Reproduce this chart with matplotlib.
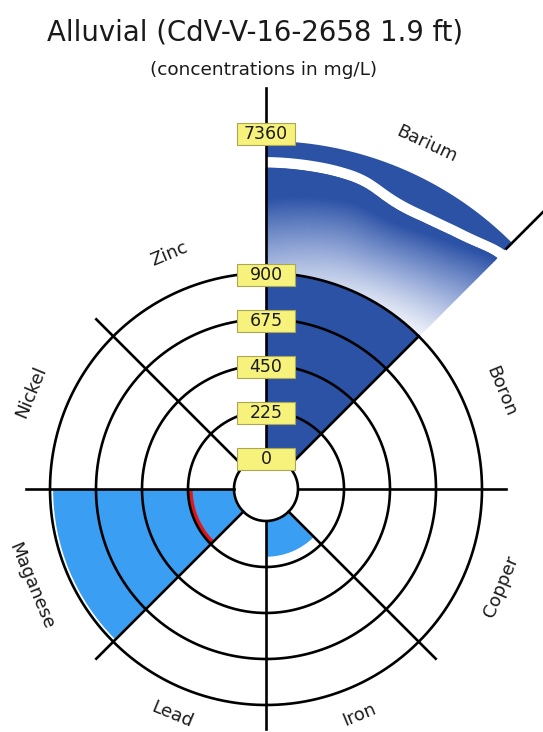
import numpy as np
import matplotlib.pyplot as plt
from matplotlib.path import Path
from matplotlib.colors import LinearSegmentedColormap

# concentrations in mg/L, clockwise from north
metals = ['Barium', 'Boron', 'Copper', 'Iron', 'Lead', 'Maganese', 'Nickel', 'Zinc']
conc = [7360, 0, 0, 180, 0, 890, 0, 0]
ring_values = [0, 225, 450, 675, 900]
limit_metal = 'Maganese'
limit_value = 212

title = 'Alluvial (CdV-V-16-2658 1.9 ft)'
subtitle = '(concentrations in mg/L)'

W, H = 543, 732
CX, CY = 266, 489      # centre of the rose (pixels, from top left)
R0, STEP = 32, 46      # radius of the 0 ring, pixels per ring
R_TOP = 348            # end of the broken wedge
RMAX = 410

DARK = '#2c52a6'
LIGHT = '#3a9ff2'
YELLOW = '#f6f27c'


def rad(v):
    if v > ring_values[-1]:
        return R_TOP
    return R0 + v / ring_values[1] * STEP


fig = plt.figure(figsize=(W / 100, H / 100), dpi=100)
ax = fig.add_axes([(CX - RMAX) / W, (H - CY - RMAX) / H, 2 * RMAX / W, 2 * RMAX / H],
                  projection='polar')
ax.set_theta_zero_location('N')
ax.set_theta_direction(-1)
ax.axis('off')

n = len(metals)
width = 2 * np.pi / n
starts = np.arange(n) * width
centres = starts + width / 2

# wavy gap of the axis break (degrees inside the wedge, pixel radius)
brk_deg = [0, 12, 17, 20, 23, 27, 33, 39, 45]
brk_r = [326.5, 325.5, 324, 320, 315, 313, 316, 322, 333]
gap = 5.5
grad = LinearSegmentedColormap.from_list('grad', ['#f1f4fb', '#8ea3d5', DARK])

for i, v in enumerate(conc):
    if v <= 0:
        continue
    if v <= ring_values[-1]:
        ax.bar(centres[i], rad(v) - R0, width=width, bottom=R0, align='center',
               color=LIGHT, edgecolor='white', linewidth=1.5, zorder=2)
        continue
    top = rad(ring_values[-1])
    ax.bar(centres[i], top - R0, width=width, bottom=R0, color=DARK,
           edgecolor='none', zorder=2)
    th = np.linspace(0, 45, 181)
    rc = np.interp(th, brk_deg, brk_r)
    rc = np.convolve(np.pad(rc, 8, mode='edge'), np.ones(17) / 17, mode='valid')
    thr = starts[i] + np.radians(th)
    s = np.linspace(0, 1, 50)
    Y = top + s[:, None] * (rc - gap - top)[None, :]
    X = np.broadcast_to(thr, Y.shape)
    C = np.clip(s[:, None] ** 1.15 + 0.32 * (1 - th / 45)[None, :], 0, 1)
    ax.pcolormesh(X, Y, C, shading='gouraud', cmap=grad, vmin=0, vmax=1, zorder=2)
    ax.fill(np.r_[thr, thr[::-1]], np.r_[rc + gap, np.full_like(thr, R_TOP)],
            color=DARK, lw=0, zorder=2)

# limit arc
k = metals.index(limit_metal)
ta = np.linspace(starts[k], starts[k] + width, 60)
ax.plot(ta, np.full_like(ta, rad(limit_value)), color='#e3151c', lw=2.8, zorder=3,
        solid_capstyle='butt')

# rings
tf = np.linspace(0, 2 * np.pi, 400)
for v in ring_values:
    ax.plot(tf, np.full_like(tf, rad(v)), color='black', lw=1.9, zorder=4)

# spokes
for j, a in enumerate(starts):
    if j == 0:
        ax.plot([a, a], [R0, 401], color='black', lw=1.9, zorder=4)
    elif conc[j - 1] > ring_values[-1]:
        ax.plot([a, a], [R0, rad(ring_values[-1])], color='black', lw=1.9, zorder=4)
        ax.plot([a, a], [340, 392], color='black', lw=1.9, zorder=4)
    else:
        ax.plot([a, a], [R0, 240], color='black', lw=1.9, zorder=4)

# value boxes on the north axis
box = Path([(-29, -10.5), (29, -10.5), (29, 10.5), (-29, 10.5), (-29, -10.5)], closed=True)
tick_r = [rad(v) - 2 for v in ring_values] + [R_TOP + 7]
tick_txt = [str(v) for v in ring_values] + [str(max(conc))]
ax.plot(np.zeros(len(tick_r)), tick_r, ls='none', marker=box, ms=41.8,
        mfc=YELLOW, mec='#aaa655', mew=0.8, zorder=5, clip_on=False)
for r, t in zip(tick_r, tick_txt):
    ax.text(0, r, t, ha='center', va='center', fontsize=12.5, color='#1a1a1a', zorder=6)

# metal names
for i, m in enumerate(metals):
    deg = np.degrees(centres[i])
    r = 254
    if i == 0:
        deg, r = 25, 381
    elif 135 < deg < 225:
        r = 244
    rot = 180 - deg if 90 < deg < 270 else -deg
    ax.text(np.radians(deg), r, m, rotation=rot, rotation_mode='anchor',
            ha='center', va='center', fontsize=13, color='#1a1a1a', clip_on=False)

ax.set_ylim(0, RMAX)

fig.text(255 / W, 1 - 33 / H, title, ha='center', va='center', fontsize=19.8, color='#1a1a1a')
fig.text(264 / W, 1 - 70 / H, subtitle, ha='center', va='center', fontsize=13.3, color='#1a1a1a')

fig.savefig('out.png', dpi=100)
